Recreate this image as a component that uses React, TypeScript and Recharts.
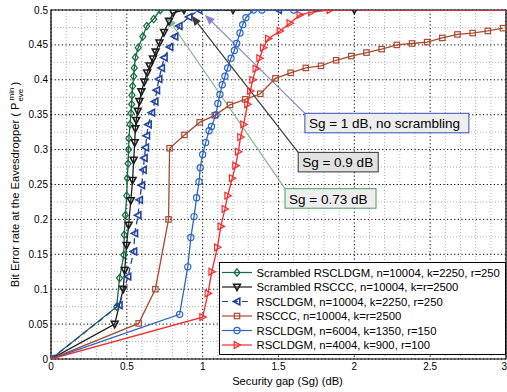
import React from "react";
import {
  LineChart,
  Line,
  XAxis,
  YAxis,
  CartesianGrid,
  ReferenceArea,
  ReferenceLine,
  Legend,
} from "recharts";

const FONT = "'Liberation Sans', Arial, Helvetica, sans-serif";

type Pt = [number, number];

// axis ticks
const xTicks = [0, 0.5, 1, 1.5, 2, 2.5, 3];
const yTicks = [0, 0.05, 0.1, 0.15, 0.2, 0.25, 0.3, 0.35, 0.4, 0.45, 0.5];
const xMinor = [
  0.1, 0.2, 0.3, 0.4, 0.6, 0.7, 0.8, 0.9, 1.1, 1.2, 1.3, 1.4, 1.6, 1.7, 1.8,
  1.9, 2.1, 2.2, 2.3, 2.4, 2.6, 2.7, 2.8, 2.9,
];
const yMinor = [0.025, 0.075, 0.125, 0.175, 0.225, 0.275, 0.325, 0.375, 0.425, 0.475];

// series values (Sg dB, BER)
const scrLdgm10004: Pt[] = [
  [0, 0], [0.433, 0.075], [0.452, 0.116], [0.48, 0.149], [0.483, 0.178],
  [0.49, 0.206], [0.499, 0.234], [0.503, 0.259], [0.508, 0.28], [0.512, 0.3],
  [0.514, 0.316], [0.521, 0.336], [0.527, 0.352], [0.532, 0.365], [0.534, 0.378],
  [0.538, 0.391], [0.545, 0.405], [0.549, 0.417], [0.556, 0.432], [0.575, 0.446],
  [0.605, 0.462], [0.631, 0.477], [0.677, 0.487], [0.72, 0.5], [3, 0.5],
];
const scrCcc10004: Pt[] = [
  [0, 0], [0.42, 0.05], [0.476, 0.1], [0.486, 0.127], [0.498, 0.163],
  [0.512, 0.192], [0.526, 0.227], [0.538, 0.256], [0.545, 0.285], [0.552, 0.31],
  [0.556, 0.33], [0.562, 0.342], [0.572, 0.355], [0.583, 0.369], [0.596, 0.383],
  [0.615, 0.397], [0.634, 0.41], [0.65, 0.42], [0.672, 0.43], [0.69, 0.44],
  [0.715, 0.453], [0.745, 0.468], [0.778, 0.484], [0.806, 0.496], [0.877, 0.5],
  [1.2, 0.5], [2.0, 0.5], [3, 0.5],
];
const ldgm10004: Pt[] = [
  [0, 0], [0.45, 0.077], [0.507, 0.118], [0.546, 0.154], [0.552, 0.18],
  [0.574, 0.206], [0.584, 0.228], [0.598, 0.249], [0.609, 0.271], [0.615, 0.288],
  [0.624, 0.303], [0.631, 0.32], [0.642, 0.336], [0.664, 0.353], [0.686, 0.369],
  [0.697, 0.385], [0.712, 0.401], [0.729, 0.417], [0.747, 0.432], [0.784, 0.447],
  [0.817, 0.462], [0.845, 0.477], [0.91, 0.49], [0.975, 0.5], [1.5, 0.5], [3, 0.5],
];
const ccc10004: Pt[] = [
  [0, 0], [0.578, 0.051], [0.688, 0.1], [0.775, 0.2], [0.782, 0.302],
  [0.88, 0.321], [0.98, 0.339], [1.08, 0.349], [1.18, 0.364], [1.28, 0.372],
  [1.38, 0.38], [1.48, 0.402], [1.58, 0.41], [1.68, 0.417], [1.78, 0.42],
  [1.88, 0.428], [1.98, 0.434], [2.08, 0.439], [2.18, 0.444], [2.28, 0.45],
  [2.38, 0.452], [2.48, 0.454], [2.58, 0.46], [2.68, 0.465], [2.78, 0.467],
  [2.88, 0.47], [2.98, 0.474],
];
const ldgm6004: Pt[] = [
  [0, 0], [0.848, 0.064], [0.902, 0.132], [0.922, 0.174], [0.943, 0.204],
  [0.96, 0.231], [0.976, 0.254], [0.984, 0.274], [1.0, 0.293], [1.02, 0.31],
  [1.042, 0.327], [1.058, 0.333], [1.088, 0.35], [1.1, 0.366], [1.114, 0.379],
  [1.129, 0.393], [1.147, 0.405], [1.165, 0.417], [1.187, 0.431], [1.209, 0.442],
  [1.224, 0.452], [1.246, 0.467], [1.264, 0.479], [1.285, 0.489], [1.335, 0.5],
  [1.39, 0.5], [1.6, 0.5], [3, 0.5],
];
const ldgm4004: Pt[] = [
  [0, 0], [1.0, 0.06], [1.035, 0.094], [1.06, 0.125], [1.097, 0.16],
  [1.12, 0.19], [1.147, 0.215], [1.165, 0.234], [1.195, 0.259], [1.217, 0.277],
  [1.235, 0.297], [1.25, 0.318], [1.27, 0.336], [1.296, 0.365], [1.315, 0.384],
  [1.33, 0.4], [1.351, 0.416], [1.376, 0.431], [1.4, 0.446], [1.433, 0.459],
  [1.51, 0.47], [1.575, 0.481], [1.641, 0.493], [1.718, 0.497], [1.839, 0.5],
  [3, 0.5],
];

type MarkerKind = "diamond" | "triDown" | "triLeft" | "square" | "circle" | "triRight";

const series: {
  name: string;
  pts: Pt[];
  color: string;
  marker: MarkerKind;
  dashed?: boolean;
}[] = [
  { name: "Scrambled RSCLDGM, n=10004, k=2250, r=250", pts: scrLdgm10004, color: "#136b3f", marker: "diamond" },
  { name: "Scrambled RSCCC, n=10004, k=r=2500", pts: scrCcc10004, color: "#1c1c1c", marker: "triDown" },
  { name: "RSCLDGM, n=10004, k=2250, r=250", pts: ldgm10004, color: "#2244a0", marker: "triLeft", dashed: true },
  { name: "RSCCC, n=10004, k=r=2500", pts: ccc10004, color: "#a84a30", marker: "square" },
  { name: "RSCLDGM, n=6004, k=1350, r=150", pts: ldgm6004, color: "#2b66c6", marker: "circle" },
  { name: "RSCLDGM, n=4004, k=900, r=100", pts: ldgm4004, color: "#f52a2a", marker: "triRight" },
];

// text boxes with arrows (tip and box corner in data units)
const notes = [
  { text: "Sg = 1 dB, no scrambling", tip: [1.015, 0.493], box: [1.674, 0.352], w: 164, color: "#3352b8", arrow: "#8282d2", bg: "#eeeeee" },
  { text: "Sg = 0.9 dB", tip: [0.927, 0.492], box: [1.63, 0.296], w: 80, color: "#333333", arrow: "#3a3a3a", bg: "#e2e2e2" },
  { text: "Sg = 0.73 dB", tip: [0.765, 0.49], box: [1.543, 0.244], w: 91, color: "#4f9a5f", arrow: "#86b488", bg: "#eeeeee" },
];

function Marker({ kind, cx, cy, color }: { kind: MarkerKind; cx: number; cy: number; color: string }) {
  const s = { fill: "none", stroke: color, strokeWidth: 1.2 };
  switch (kind) {
    case "diamond":
      return <polygon points={`${cx},${cy - 3.7} ${cx + 3},${cy} ${cx},${cy + 3.7} ${cx - 3},${cy}`} {...s} />;
    case "triDown":
      return <polygon points={`${cx - 3.4},${cy - 2.8} ${cx + 3.4},${cy - 2.8} ${cx},${cy + 3.6}`} {...s} strokeWidth={1.6} />;
    case "triLeft":
      return <polygon points={`${cx - 3.6},${cy} ${cx + 2.8},${cy - 3.4} ${cx + 2.8},${cy + 3.4}`} {...s} strokeWidth={1.6} />;
    case "square":
      return <rect x={cx - 2.7} y={cy - 2.7} width={5.4} height={5.4} {...s} />;
    case "circle":
      return <circle cx={cx} cy={cy} r={3.1} {...s} />;
    case "triRight":
      return <polygon points={`${cx + 3.6},${cy} ${cx - 2.8},${cy - 3.4} ${cx - 2.8},${cy + 3.4}`} {...s} />;
  }
}

const makeDot = (kind: MarkerKind, color: string) => (p: any) => {
  // the flat run to the right border carries no marker at its end
  if (p.cx == null || p.payload.x >= 3) return <g key={p.index} />;
  return (
    <g key={p.index}>
      <Marker kind={kind} cx={p.cx} cy={p.cy} color={color} />
    </g>
  );
};

function NoteShape(props: any) {
  const { x1, y1, x2, y2, note } = props;
  const dx = x1 - x2;
  const dy = y1 - y2;
  const len = Math.sqrt(dx * dx + dy * dy);
  const ux = dx / len;
  const uy = dy / len;
  const bx = x1 - ux * 10;
  const by = y1 - uy * 10;
  const nx = -uy * 4;
  const ny = ux * 4;
  return (
    <g>
      <line x1={x2} y1={y2} x2={bx} y2={by} stroke={note.arrow} strokeWidth={1.2} />
      <polygon points={`${x1},${y1} ${bx + nx},${by + ny} ${bx - nx},${by - ny}`} fill={note.arrow} />
      <rect x={x2} y={y2} width={note.w} height={19.5} fill={note.bg} stroke={note.color} strokeWidth={1} />
      <text x={x2 + 4} y={y2 + 15} fontSize={13.5} fontFamily={FONT} fill="#000">
        {note.text}
      </text>
    </g>
  );
}

function LegendBox() {
  return (
    <svg width={287} height={93} style={{ display: "block" }}>
      <rect x={0.5} y={0.5} width={286} height={92} fill="#fff" stroke="#000" strokeWidth={1} />
      {series.map((s, i) => {
        const y = 10.5 + i * 14.5;
        return (
          <g key={s.name}>
            <line x1={3} y1={y} x2={33} y2={y} stroke={s.color} strokeWidth={1.2} strokeDasharray={s.dashed ? "6 4" : undefined} />
            <Marker kind={s.marker} cx={18} cy={y} color={s.color} />
            <text x={37.5} y={y + 4} fontSize={11.3} fontFamily={FONT} fill="#000">
              {s.name}
            </text>
          </g>
        );
      })}
    </svg>
  );
}

function XTick(props: any) {
  const { x, y, payload, index, visibleTicksCount } = props;
  const last = index === visibleTicksCount - 1;
  return (
    <text x={last ? x + 1 : x} y={y} dy="0.71em" textAnchor={last ? "end" : "middle"} fontSize={10} fontFamily={FONT} fill="#000">
      {fmt(payload.value)}
    </text>
  );
}

function YLabel(props: any) {
  const vb = props.viewBox;
  const x = vb.x + 19;
  const y = vb.y + vb.height / 2;
  return (
    <text x={x} y={y} transform={`rotate(-90 ${x} ${y})`} textAnchor="middle" fontSize={11.2} fontFamily={FONT} fill="#000">
      Bit Error rate at the Eavesdropper ( P
      <tspan fontSize={8} dx={2} dy={-5}>min</tspan>
      <tspan fontSize={8} dx={-14} dy={9}>eve</tspan>
      <tspan dy={-4}> )</tspan>
    </text>
  );
}

function XLabel(props: any) {
  const vb = props.viewBox;
  return (
    <text x={vb.x + vb.width / 2 + 9} y={vb.y + 26} textAnchor="middle" fontSize={11.2} fontFamily={FONT} fill="#000">
      Security gap (Sg) (dB)
    </text>
  );
}

const fmt = (v: number) => String(Number(v.toFixed(3)));

export default function App() {
  return (
    <div style={{ position: "absolute", left: 0, top: 0, background: "#fff" }}>
      <LineChart width={507} height={392} margin={{ top: 10, right: 1, left: 0, bottom: 0 }}>
        <CartesianGrid
          verticalValues={xMinor}
          horizontalValues={yMinor}
          stroke="#b0b0b0"
          strokeDasharray="1 2"
        />
        <CartesianGrid stroke="#000" strokeDasharray="1.2 2.4" />
        <XAxis
          type="number"
          dataKey="x"
          domain={[0, 3]}
          ticks={xTicks}
          interval={0}
          allowDataOverflow
          height={33}
          axisLine={false}
          tickLine={false}
          tickSize={0}
          tickMargin={4}
          tick={<XTick />}
          label={<XLabel />}
        />
        <YAxis
          type="number"
          dataKey="y"
          domain={[0, 0.5]}
          ticks={yTicks}
          interval={0}
          allowDataOverflow
          width={51}
          axisLine={false}
          tickLine={false}
          tickSize={0}
          tickMargin={3}
          tickFormatter={fmt}
          tick={{ fontSize: 10, fill: "#000", fontFamily: FONT }}
          label={<YLabel />}
        />
        {series.map((s) => (
          <Line
            key={s.name}
            data={s.pts.map(([x, y]) => ({ x, y }))}
            dataKey="y"
            name={s.name}
            type="linear"
            stroke={s.color}
            strokeWidth={1.3}
            strokeDasharray={s.dashed ? "6 4" : undefined}
            dot={makeDot(s.marker, s.color)}
            activeDot={false}
            isAnimationActive={false}
          />
        ))}
        <ReferenceArea x1={0} x2={3} y1={0} y2={0.5} fill="none" stroke="#000" strokeWidth={1.2} ifOverflow="visible" />
        {notes.map((n) => (
          <ReferenceLine
            key={n.text}
            segment={[
              { x: n.tip[0], y: n.tip[1] },
              { x: n.box[0], y: n.box[1] },
            ]}
            ifOverflow="visible"
            shape={(p: any) => <NoteShape {...p} note={n} />}
          />
        ))}
        <Legend
          layout="vertical"
          align="center"
          verticalAlign="middle"
          wrapperStyle={{ left: 219, top: 262, width: 287, height: 93 }}
          content={() => <LegendBox />}
        />
      </LineChart>
    </div>
  );
}
